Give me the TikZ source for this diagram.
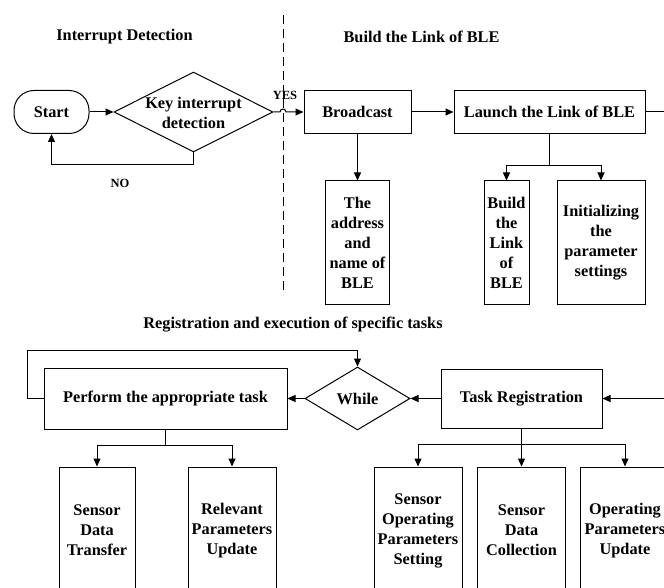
\documentclass[tikz,border=0pt]{standalone}
\usepackage{fontspec}
\setmainfont{Liberation Serif}
\usetikzlibrary{arrows.meta,shapes.geometric}
\begin{document}
\begin{tikzpicture}[x=1pt,y=-1pt,
  font=\fontsize{16.3}{20}\selectfont\bfseries,
  line width=1pt,
  box/.style={draw, rectangle, inner sep=0pt, align=center},
  dia/.style={draw, diamond, inner sep=0pt},
  arr/.style={-{Triangle[length=8pt,width=7pt]}},
  ttl/.style={inner sep=0pt, align=center},
  small/.style={inner sep=0pt, font=\fontsize{12.5}{15}\selectfont\bfseries},
]
\useasboundingbox (0,0) rectangle (664,588);

% titles
\node[ttl] (t1) at (124.5,37) {Interrupt Detection};
\node[ttl] (t2) at (421.5,37) {Build the Link of BLE};
\node[ttl] (t3) at (293,325) {Registration and execution of specific tasks};

% separator
\coordinate (sepA) at (283,15);
\coordinate (sepB) at (283,295);
\draw[dash pattern=on 9pt off 5pt] (sepA) -- (sepB);

% top row
\node[box, rounded corners=20pt, minimum width=75pt, minimum height=43pt] (start) at (51.5,112) {Start};
\node[dia, minimum width=159pt, minimum height=80pt] (kid) at (193.5,112) {};
\node[ttl] (kidt) at (193.5,113) {Key interrupt\\detection};
\node[box, minimum width=107pt, minimum height=43pt] (bc) at (357.5,112) {Broadcast};
\node[box, minimum width=191pt, minimum height=43pt] (launch) at (549.5,112) {Launch the Link of BLE};

\node[box, minimum width=64pt, minimum height=123pt] (addr) at (357.5,242.5) {The\\address\\and\\name of\\BLE};
\node[box, minimum width=45pt, minimum height=123pt] (build) at (506.5,242.5) {Build\\the\\Link\\of\\BLE};
\node[box, minimum width=88pt, minimum height=123pt] (init) at (601,242.5) {Initializing\\the\\parameter\\settings};

\node[small] (no) at (120,183) {NO};
\node[small] (yes) at (285,95) {YES};

% bottom row
\node[box, minimum width=243pt, minimum height=61pt] (perform) at (165.5,398.5) {Perform the appropriate task};
\node[dia, minimum width=105pt, minimum height=63pt] (while) at (357.5,398.5) {While};
\node[box, minimum width=161pt, minimum height=59pt] (treg) at (521.5,398.5) {Task Registration};

\node[box, minimum width=76pt, minimum height=127pt] (sdt) at (97,530.5) {Sensor\\Data\\Transfer};
\node[box, minimum width=88pt, minimum height=127pt] (rpu) at (232,530.5) {Relevant\\Parameters\\Update};
\node[box, minimum width=88pt, minimum height=127pt] (sops) at (418,530.5) {Sensor\\Operating\\Parameters\\Setting};
\node[box, minimum width=88pt, minimum height=127pt] (sdc) at (521.5,530.5) {Sensor\\Data\\Collection};
\node[box, minimum width=90pt, minimum height=127pt] (opu) at (625,530.5) {Operating\\Parameters\\Update};

% connectors top
\draw[arr] (start.east) -- (kid.west);
\draw[arr] (kid.south) -- ++(0,12) -| (start.south);
\draw[arr] (kid.east) -- (280,112) arc[start angle=180, end angle=360, radius=3] -- (bc.west);
\draw[arr] (bc.east) -- (launch.west);
\draw[arr] (bc.south) -- (addr.north);
\draw (launch.south) -- ++(0,32) coordinate (lj);
\draw[arr] (lj) -| (build.north);
\draw[arr] (lj) -| (init.north);
\draw[arr] (launch.east) -- (700,112) -- (700,398.5) -- (treg.east);

% connectors bottom
\draw[arr] (treg.west) -- (while.east);
\draw[arr] (while.west) -- (perform.east);
\draw[arr] (perform.west) -- ++(-16,0) |- ([yshift=16pt]while.north) -- (while.north);
\draw (perform.south) -- ++(0,16) coordinate (pj);
\draw[arr] (pj) -| (sdt.north);
\draw[arr] (pj) -| (rpu.north);
\draw (treg.south) -- ++(0,16) coordinate (tj);
\draw[arr] (tj) -| (sops.north);
\draw[arr] (tj) -- (sdc.north);
\draw[arr] (tj) -| (opu.north);
\end{tikzpicture}
\end{document}
